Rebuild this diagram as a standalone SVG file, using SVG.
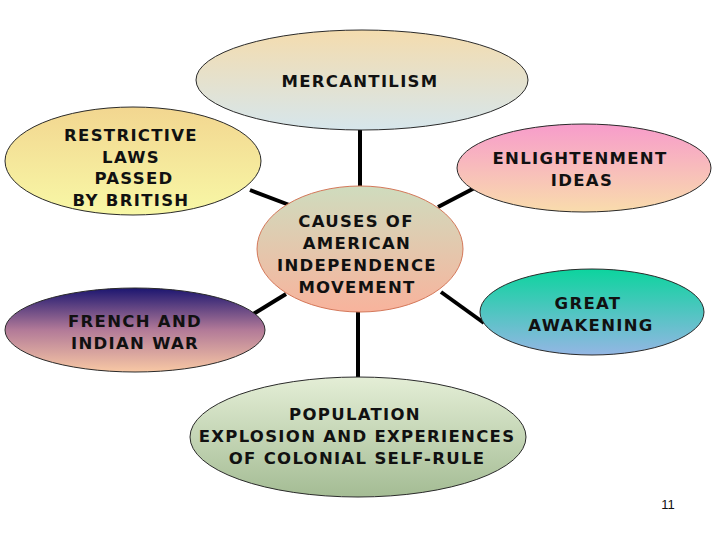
<svg xmlns="http://www.w3.org/2000/svg" width="720" height="540" viewBox="0 0 720 540">
<defs>
<linearGradient id="gMerc" x1="0" y1="0" x2="0" y2="1"><stop offset="0" stop-color="#f4dcae"/><stop offset="1" stop-color="#d6e6ec"/></linearGradient>
<linearGradient id="gRest" x1="0" y1="0" x2="0" y2="1"><stop offset="0" stop-color="#f2d690"/><stop offset="1" stop-color="#f8f8a6"/></linearGradient>
<linearGradient id="gEnl" x1="0" y1="0" x2="0" y2="1"><stop offset="0" stop-color="#f79ccb"/><stop offset="1" stop-color="#f9dcac"/></linearGradient>
<linearGradient id="gCen" x1="0" y1="0" x2="0" y2="1"><stop offset="0" stop-color="#cfdcbe"/><stop offset="1" stop-color="#f8b39c"/></linearGradient>
<linearGradient id="gFr" x1="0" y1="0" x2="0" y2="1"><stop offset="0" stop-color="#1c1670"/><stop offset="0.5" stop-color="#b27a98"/><stop offset="1" stop-color="#f8c8a4"/></linearGradient>
<linearGradient id="gGr" x1="0" y1="0" x2="0" y2="1"><stop offset="0" stop-color="#0cd49e"/><stop offset="1" stop-color="#94b6e4"/></linearGradient>
<linearGradient id="gPop" x1="0" y1="0" x2="0" y2="1"><stop offset="0" stop-color="#e4eed6"/><stop offset="1" stop-color="#a4bc94"/></linearGradient>
</defs>
<style>
.n{stroke:#2a2a2a;stroke-width:1}
.t{font-family:"DejaVu Sans",Verdana,sans-serif;font-weight:bold;font-size:16.5px;letter-spacing:1.3px;fill:#111;text-anchor:middle}
.c{stroke:#000;stroke-width:4;fill:none}
</style>
<rect width="720" height="540" fill="#fff"/>
<g id="connectors">
<line class="c" x1="360" y1="130" x2="360" y2="187"/>
<line class="c" x1="250" y1="190" x2="292" y2="206"/>
<line class="c" x1="438" y1="207" x2="486" y2="182"/>
<line class="c" x1="250" y1="316" x2="286" y2="294"/>
<line class="c" x1="441" y1="292" x2="484" y2="323"/>
<line class="c" x1="358" y1="311" x2="358" y2="379"/>
</g>
<g id="mercantilism">
<ellipse class="n" cx="362" cy="80" rx="166" ry="50" fill="url(#gMerc)"/>
<text class="t" x="360" y="87">MERCANTILISM</text>
</g>
<g id="restrictive">
<ellipse class="n" cx="133" cy="161" rx="128" ry="54" fill="url(#gRest)"/>
<text class="t" x="131" y="141">RESTRICTIVE</text>
<text class="t" x="131" y="163">LAWS</text>
<text class="t" x="134" y="184">PASSED</text>
<text class="t" x="131" y="206">BY BRITISH</text>
</g>
<g id="enlightenment">
<ellipse class="n" cx="584" cy="168" rx="127" ry="44" fill="url(#gEnl)"/>
<text class="t" x="580" y="164">ENLIGHTENMENT</text>
<text class="t" x="582" y="186">IDEAS</text>
</g>
<g id="french">
<ellipse class="n" cx="135" cy="330" rx="130" ry="42" fill="url(#gFr)"/>
<text class="t" x="135" y="327">FRENCH AND</text>
<text class="t" x="135" y="349">INDIAN WAR</text>
</g>
<g id="great">
<ellipse class="n" cx="592" cy="312" rx="112" ry="43" fill="url(#gGr)"/>
<text class="t" x="588" y="309">GREAT</text>
<text class="t" x="591" y="331">AWAKENING</text>
</g>
<g id="center">
<ellipse cx="360" cy="249" rx="103" ry="63" fill="url(#gCen)" stroke="#d4785a" stroke-width="1"/>
<text class="t" x="356" y="227">CAUSES OF</text>
<text class="t" x="357" y="249">AMERICAN</text>
<text class="t" x="357" y="271">INDEPENDENCE</text>
<text class="t" x="357" y="293">MOVEMENT</text>
</g>
<g id="population">
<ellipse class="n" cx="358" cy="437" rx="168" ry="60" fill="url(#gPop)"/>
<text class="t" x="355" y="420">POPULATION</text>
<text class="t" x="357" y="442">EXPLOSION AND EXPERIENCES</text>
<text class="t" x="357" y="464">OF COLONIAL SELF-RULE</text>
</g>
<text x="668" y="509" font-family="Liberation Sans,Arial,sans-serif" font-size="13" text-anchor="middle" fill="#111">11</text>
</svg>
